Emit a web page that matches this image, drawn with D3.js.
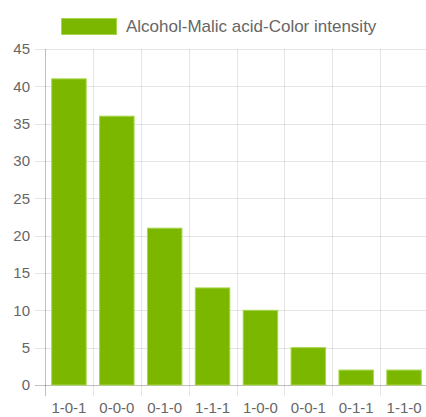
<!DOCTYPE html>
<html>
<head>
<meta charset="utf-8">
<script src="https://cdn.jsdelivr.net/npm/d3@7"></script>
<style>
  html, body { margin: 0; padding: 0; background: #fff; }
  #chart { width: 426px; height: 417px; }
  text { font-family: "Liberation Sans", Arial, Helvetica, sans-serif; fill: #666; }
</style>
</head>
<body>
<div id="chart"></div>
<script>
const categories = ['1-0-1', '0-0-0', '0-1-0', '1-1-1', '1-0-0', '0-0-1', '0-1-1', '1-1-0'];
const counts     = [41, 36, 21, 13, 10, 5, 2, 2];
const yTicks     = [0, 5, 10, 15, 20, 25, 30, 35, 40, 45];
const seriesName = 'Alcohol-Malic acid-Color intensity';

const margin = {top: 49, right: -2, bottom: 32, left: 45};
const W = 426 - margin.left - margin.right;
const H = 417 - margin.top - margin.bottom;

const svg = d3.select('#chart').append('svg')
    .attr('width', 426).attr('height', 417);

const g = svg.append('g').attr('transform', `translate(${margin.left},${margin.top})`);

const x = d3.scaleBand().domain(categories).range([0, W]);
const y = d3.scaleLinear().domain([0, 45]).range([H, 0]);

// horizontal grid + y ticks
g.selectAll('.hgrid').data(yTicks).enter().append('line')
  .attr('x1', -10).attr('x2', W)
  .attr('y1', d => Math.round(y(d)) + 0.5).attr('y2', d => Math.round(y(d)) + 0.5)
  .attr('stroke', d => d === 0 ? 'rgba(0,0,0,0.25)' : 'rgba(0,0,0,0.1)');

g.selectAll('.ylab').data(yTicks).enter().append('text')
  .attr('x', -15).attr('y', d => y(d)).attr('dy', '0.35em')
  .attr('text-anchor', 'end').attr('font-size', 15).text(d => d);

// vertical grid at category boundaries
const bounds = categories.map(c => x(c));
g.selectAll('.vgrid').data(bounds).enter().append('line')
  .attr('x1', d => Math.round(d) + 0.5).attr('x2', d => Math.round(d) + 0.5)
  .attr('y1', 0).attr('y2', H + 11)
  .attr('stroke', (d, i) => i === 0 ? 'rgba(0,0,0,0.25)' : 'rgba(0,0,0,0.1)');

// bars
const bw = x.bandwidth() * 0.72;
g.selectAll('.bar').data(categories).enter().append('rect')
  .attr('x', c => x(c) + (x.bandwidth() - bw) / 2)
  .attr('y', (c, i) => y(counts[i]))
  .attr('width', bw)
  .attr('height', (c, i) => H - y(counts[i]))
  .attr('fill', '#7cb700')
  .attr('stroke', '#a6d64a').attr('stroke-width', 1);

// x labels
g.selectAll('.xlab').data(categories).enter().append('text')
  .attr('x', c => x(c) + x.bandwidth() / 2)
  .attr('y', H + 28)
  .attr('text-anchor', 'middle').attr('font-size', 15).text(c => c);

// legend
svg.append('rect').attr('x', 61.5).attr('y', 18.5).attr('width', 55).attr('height', 16)
  .attr('fill', '#7cb700').attr('stroke', '#a6d64a');
svg.append('text').attr('x', 126).attr('y', 26).attr('dy', '0.35em')
  .attr('font-size', 17).text(seriesName);
</script>
</body>
</html>
